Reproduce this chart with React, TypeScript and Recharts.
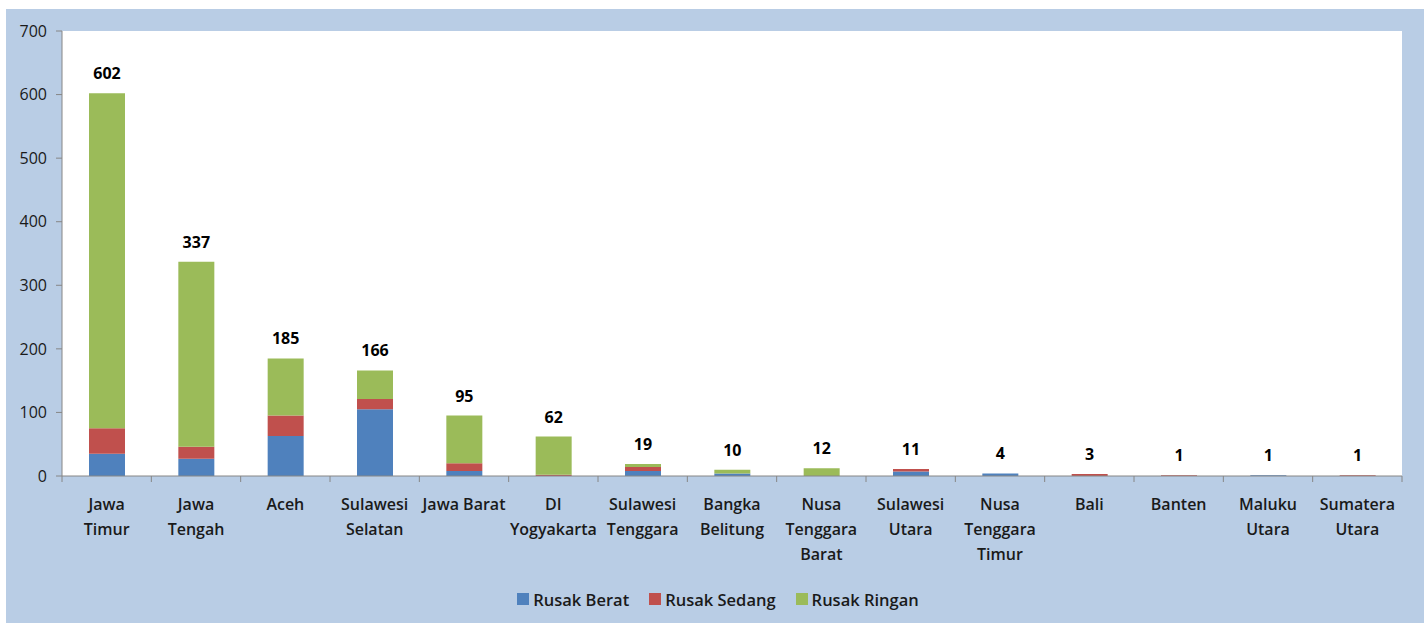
import React from "react";
import { BarChart, Bar, XAxis, YAxis, CartesianGrid, LabelList, Legend } from "recharts";

const categories = [
  "Jawa Timur", "Jawa Tengah", "Aceh", "Sulawesi Selatan", "Jawa Barat",
  "DI Yogyakarta", "Sulawesi Tenggara", "Bangka Belitung", "Nusa Tenggara Barat",
  "Sulawesi Utara", "Nusa Tenggara Timur", "Bali", "Banten", "Maluku Utara", "Sumatera Utara",
];
const tickLabels = [
  ["Jawa", "Timur"], ["Jawa", "Tengah"], ["Aceh"], ["Sulawesi", "Selatan"], ["Jawa Barat"],
  ["DI", "Yogyakarta"], ["Sulawesi", "Tenggara"], ["Bangka", "Belitung"], ["Nusa", "Tenggara", "Barat"],
  ["Sulawesi", "Utara"], ["Nusa", "Tenggara", "Timur"], ["Bali"], ["Banten"], ["Maluku", "Utara"], ["Sumatera", "Utara"],
];
const rusakBerat = [35, 27, 63, 105, 8, 0, 8, 4, 0, 7, 4, 0, 0, 1, 0];
const rusakSedang = [40, 19, 32, 16, 12, 2, 6, 0, 0, 4, 0, 3, 1, 0, 1];
const rusakRingan = [527, 291, 90, 45, 75, 60, 5, 6, 12, 0, 0, 0, 0, 0, 0];
const totals = [602, 337, 185, 166, 95, 62, 19, 10, 12, 11, 4, 3, 1, 1, 1];
const yTicks = [0, 100, 200, 300, 400, 500, 600, 700];

const seriesNames = ["Rusak Berat", "Rusak Sedang", "Rusak Ringan"];
const colors = ["#4F81BD", "#C0504D", "#9BBB59"];

const data = categories.map((c, i) => ({
  name: c,
  berat: rusakBerat[i],
  sedang: rusakSedang[i],
  ringan: rusakRingan[i],
  total: totals[i],
}));

const FONT = "'Open Sans', sans-serif";
const W = 1418;
const H = 614;
const MARGIN = { top: 22, right: 22, left: 0, bottom: 12 };
const Y_W = 56;
const BAND = (W - MARGIN.right - MARGIN.left - Y_W) / categories.length;

const XTick = (props: any) => {
  const { x, y, payload, index } = props;
  const idx = payload && typeof payload.index === "number" ? payload.index : index;
  const lines = tickLabels[idx] || [String(payload.value)];
  const half = BAND / 2;
  return (
    <g>
      <line x1={x - half} x2={x - half} y1={y} y2={y + 6} stroke="#868686" strokeWidth={1} />
      {idx === categories.length - 1 && (
        <line x1={x + half} x2={x + half} y1={y} y2={y + 6} stroke="#868686" strokeWidth={1} />
      )}
      {lines.map((l: string, i: number) => (
        <text
          key={i}
          x={x}
          y={y + 34 + i * 25}
          textAnchor="middle"
          fontFamily={FONT}
          fontSize={16}
          fontWeight={600}
          fill="#1a1a1a"
        >
          {l}
        </text>
      ))}
    </g>
  );
};

const LegendContent = () => (
  <div
    style={{
      display: "flex",
      justifyContent: "center",
      alignItems: "center",
      height: 24,
      fontFamily: FONT,
      fontSize: 16.5,
      fontWeight: 600,
      color: "#1a1a1a",
      paddingLeft: 28,
    }}
  >
    {seriesNames.map((n, i) => (
      <div key={n} style={{ display: "flex", alignItems: "center", marginRight: i < 2 ? 20 : 0 }}>
        <div style={{ width: 12, height: 12, background: colors[i], marginRight: 4 }} />
        <span>{n}</span>
      </div>
    ))}
  </div>
);

export default function App() {
  return (
    <div style={{ position: "absolute", left: 6, top: 9, width: W, height: H, background: "#B9CDE5" }}>
      <BarChart width={W} height={H} data={data} margin={MARGIN} barSize={36}>
        <CartesianGrid fill="#FFFFFF" stroke="none" horizontal={false} vertical={false} />
        <XAxis
          dataKey="name"
          interval={0}
          height={111}
          tickSize={0}
          tickMargin={0}
          tickLine={false}
          tick={<XTick />}
          axisLine={{ stroke: "#868686" }}
        />
        <XAxis xAxisId="lbl" dataKey="name" hide />
        <YAxis
          width={Y_W}
          domain={[0, 700]}
          ticks={yTicks}
          interval={0}
          tickSize={6}
          tickMargin={9}
          tickLine={{ stroke: "#868686" }}
          axisLine={{ stroke: "#868686" }}
          tick={{ fontFamily: FONT, fontSize: 16, fill: "#1a1a1a" }}
        />
        <Legend verticalAlign="bottom" content={<LegendContent />} />
        <Bar dataKey="berat" name={seriesNames[0]} stackId="a" fill={colors[0]} isAnimationActive={false} />
        <Bar dataKey="sedang" name={seriesNames[1]} stackId="a" fill={colors[1]} isAnimationActive={false} />
        <Bar dataKey="ringan" name={seriesNames[2]} stackId="a" fill={colors[2]} isAnimationActive={false} />
        <Bar
          xAxisId="lbl"
          dataKey="total"
          fill="transparent"
          legendType="none"
          isAnimationActive={false}
        >
          <LabelList
            dataKey="total"
            position="top"
            offset={14}
            style={{ fontFamily: FONT, fontSize: 16, fontWeight: 700, fill: "#000" }}
          />
        </Bar>
      </BarChart>
    </div>
  );
}
